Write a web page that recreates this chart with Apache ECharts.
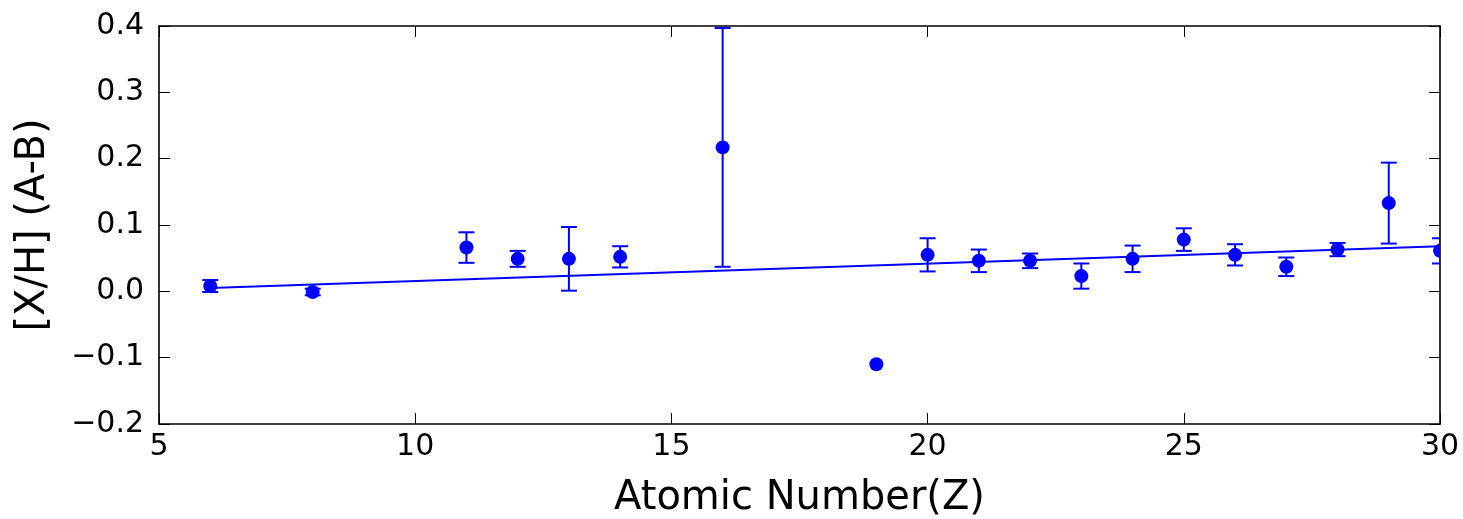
<!DOCTYPE html>
<html>
<head>
<meta charset="utf-8">
<script src="https://cdn.jsdelivr.net/npm/echarts@6/dist/echarts.min.js"></script>
<style>
html,body{margin:0;padding:0;background:#fff;}
#c{width:1463px;height:519px;}
</style>
</head>
<body>
<div id="c"></div>
<script>
// Atomic numbers
const atomicZ = [6, 8, 11, 12, 13, 14, 16, 19, 20, 21, 22, 23, 24, 25, 26, 27, 28, 29, 30];
// [X/H] (A-B) values
const xhValues = [0.008, -0.001, 0.066, 0.049, 0.049, 0.052, 0.217, -0.110, 0.055, 0.046, 0.046, 0.023, 0.049, 0.078, 0.055, 0.037, 0.063, 0.133, 0.061];
// symmetric errors
const xhErrors = [0.009, 0.005, 0.023, 0.012, 0.048, 0.016, 0.180, 0.0, 0.025, 0.017, 0.011, 0.019, 0.020, 0.017, 0.016, 0.014, 0.010, 0.061, 0.019];
// linear fit endpoints
const fitZ = [6, 30];
const fitValues = [0.005, 0.068];
// axis ticks
const xTicks = {min: 5, max: 30, interval: 5};
const yTicks = {min: -0.2, max: 0.4, interval: 0.1};

const BLUE = '#0000ff';
const FONT = 'DejaVu Sans';

const pointData = atomicZ.map((z, i) => [z, xhValues[i]]);
const errData = atomicZ.map((z, i) => [z, xhValues[i] - xhErrors[i], xhValues[i] + xhErrors[i]]);
const fitData = fitZ.map((z, i) => [z, fitValues[i]]);

const fmtY = v => {
  const s = (Math.abs(v) < 1e-9 ? 0 : v).toFixed(1);
  return s.replace('-', '\u2212');
};

const axisLineStyle = {color: '#000', width: 1.6};
const tickStyle = {show: true, inside: true, length: 11, lineStyle: {color: '#000', width: 1}};

function clipRect(params) {
  const c = params.coordSys;
  return {type: 'rect', shape: {x: c.x, y: c.y, width: c.width, height: c.height}};
}

const chart = echarts.init(document.getElementById('c'));
chart.setOption({
  animation: false,
  backgroundColor: '#fff',
  grid: {left: 159, right: 23, top: 26, bottom: 95, containLabel: false, outerBoundsMode: 'none'},
  xAxis: [
    {
      type: 'value', position: 'bottom', min: xTicks.min, max: xTicks.max, interval: xTicks.interval,
      name: 'Atomic Number(Z)', nameLocation: 'middle', nameGap: 55,
      nameTextStyle: {fontFamily: FONT, fontSize: 40, color: '#000'},
      axisLine: {show: true, onZero: false, lineStyle: axisLineStyle},
      axisTick: tickStyle,
      axisLabel: {fontFamily: FONT, fontSize: 30, color: '#000', margin: 8},
      splitLine: {show: false}
    },
    {
      type: 'value', position: 'top', min: xTicks.min, max: xTicks.max, interval: xTicks.interval,
      axisLine: {show: true, onZero: false, lineStyle: axisLineStyle},
      axisTick: tickStyle,
      axisLabel: {show: false},
      splitLine: {show: false}
    }
  ],
  yAxis: [
    {
      type: 'value', position: 'left', min: yTicks.min, max: yTicks.max, interval: yTicks.interval,
      name: '[X/H] (A-B)', nameLocation: 'middle', nameGap: 105,
      nameTextStyle: {fontFamily: FONT, fontSize: 40, color: '#000'},
      axisLine: {show: true, onZero: false, lineStyle: axisLineStyle},
      axisTick: tickStyle,
      axisLabel: {fontFamily: FONT, fontSize: 30, color: '#000', margin: 15, formatter: fmtY},
      splitLine: {show: false}
    },
    {
      type: 'value', position: 'right', min: yTicks.min, max: yTicks.max, interval: yTicks.interval,
      axisLine: {show: true, onZero: false, lineStyle: axisLineStyle},
      axisTick: tickStyle,
      axisLabel: {show: false},
      splitLine: {show: false}
    }
  ],
  series: [
    {
      type: 'line', data: fitData, xAxisIndex: 0, yAxisIndex: 0,
      showSymbol: false, symbol: 'none',
      lineStyle: {color: BLUE, width: 2},
      silent: true, z: 2
    },
    {
      type: 'custom', xAxisIndex: 0, yAxisIndex: 0, data: errData, clip: true, z: 3,
      renderItem: function (params, api) {
        const lo = api.value(1), hi = api.value(2);
        if (hi - lo <= 0) return null;
        const x = api.value(0);
        const pLo = api.coord([x, lo]);
        const pHi = api.coord([x, hi]);
        const cap = 8;
        const st = {stroke: BLUE, lineWidth: 2};
        return {
          type: 'group',
          clipPath: clipRect(params),
          children: [
            {type: 'line', shape: {x1: pLo[0], y1: pLo[1], x2: pHi[0], y2: pHi[1]}, style: st},
            {type: 'line', shape: {x1: pLo[0] - cap, y1: pLo[1], x2: pLo[0] + cap, y2: pLo[1]}, style: st},
            {type: 'line', shape: {x1: pHi[0] - cap, y1: pHi[1], x2: pHi[0] + cap, y2: pHi[1]}, style: st}
          ]
        };
      }
    },
    {
      type: 'custom', xAxisIndex: 0, yAxisIndex: 0, data: pointData, clip: true, z: 4,
      renderItem: function (params, api) {
        const p = api.coord([api.value(0), api.value(1)]);
        return {
          type: 'group',
          clipPath: clipRect(params),
          children: [{
            type: 'circle',
            shape: {cx: p[0], cy: p[1], r: 7},
            style: {fill: BLUE, stroke: BLUE, lineWidth: 0}
          }]
        };
      }
    }
  ]
});
</script>
</body>
</html>
